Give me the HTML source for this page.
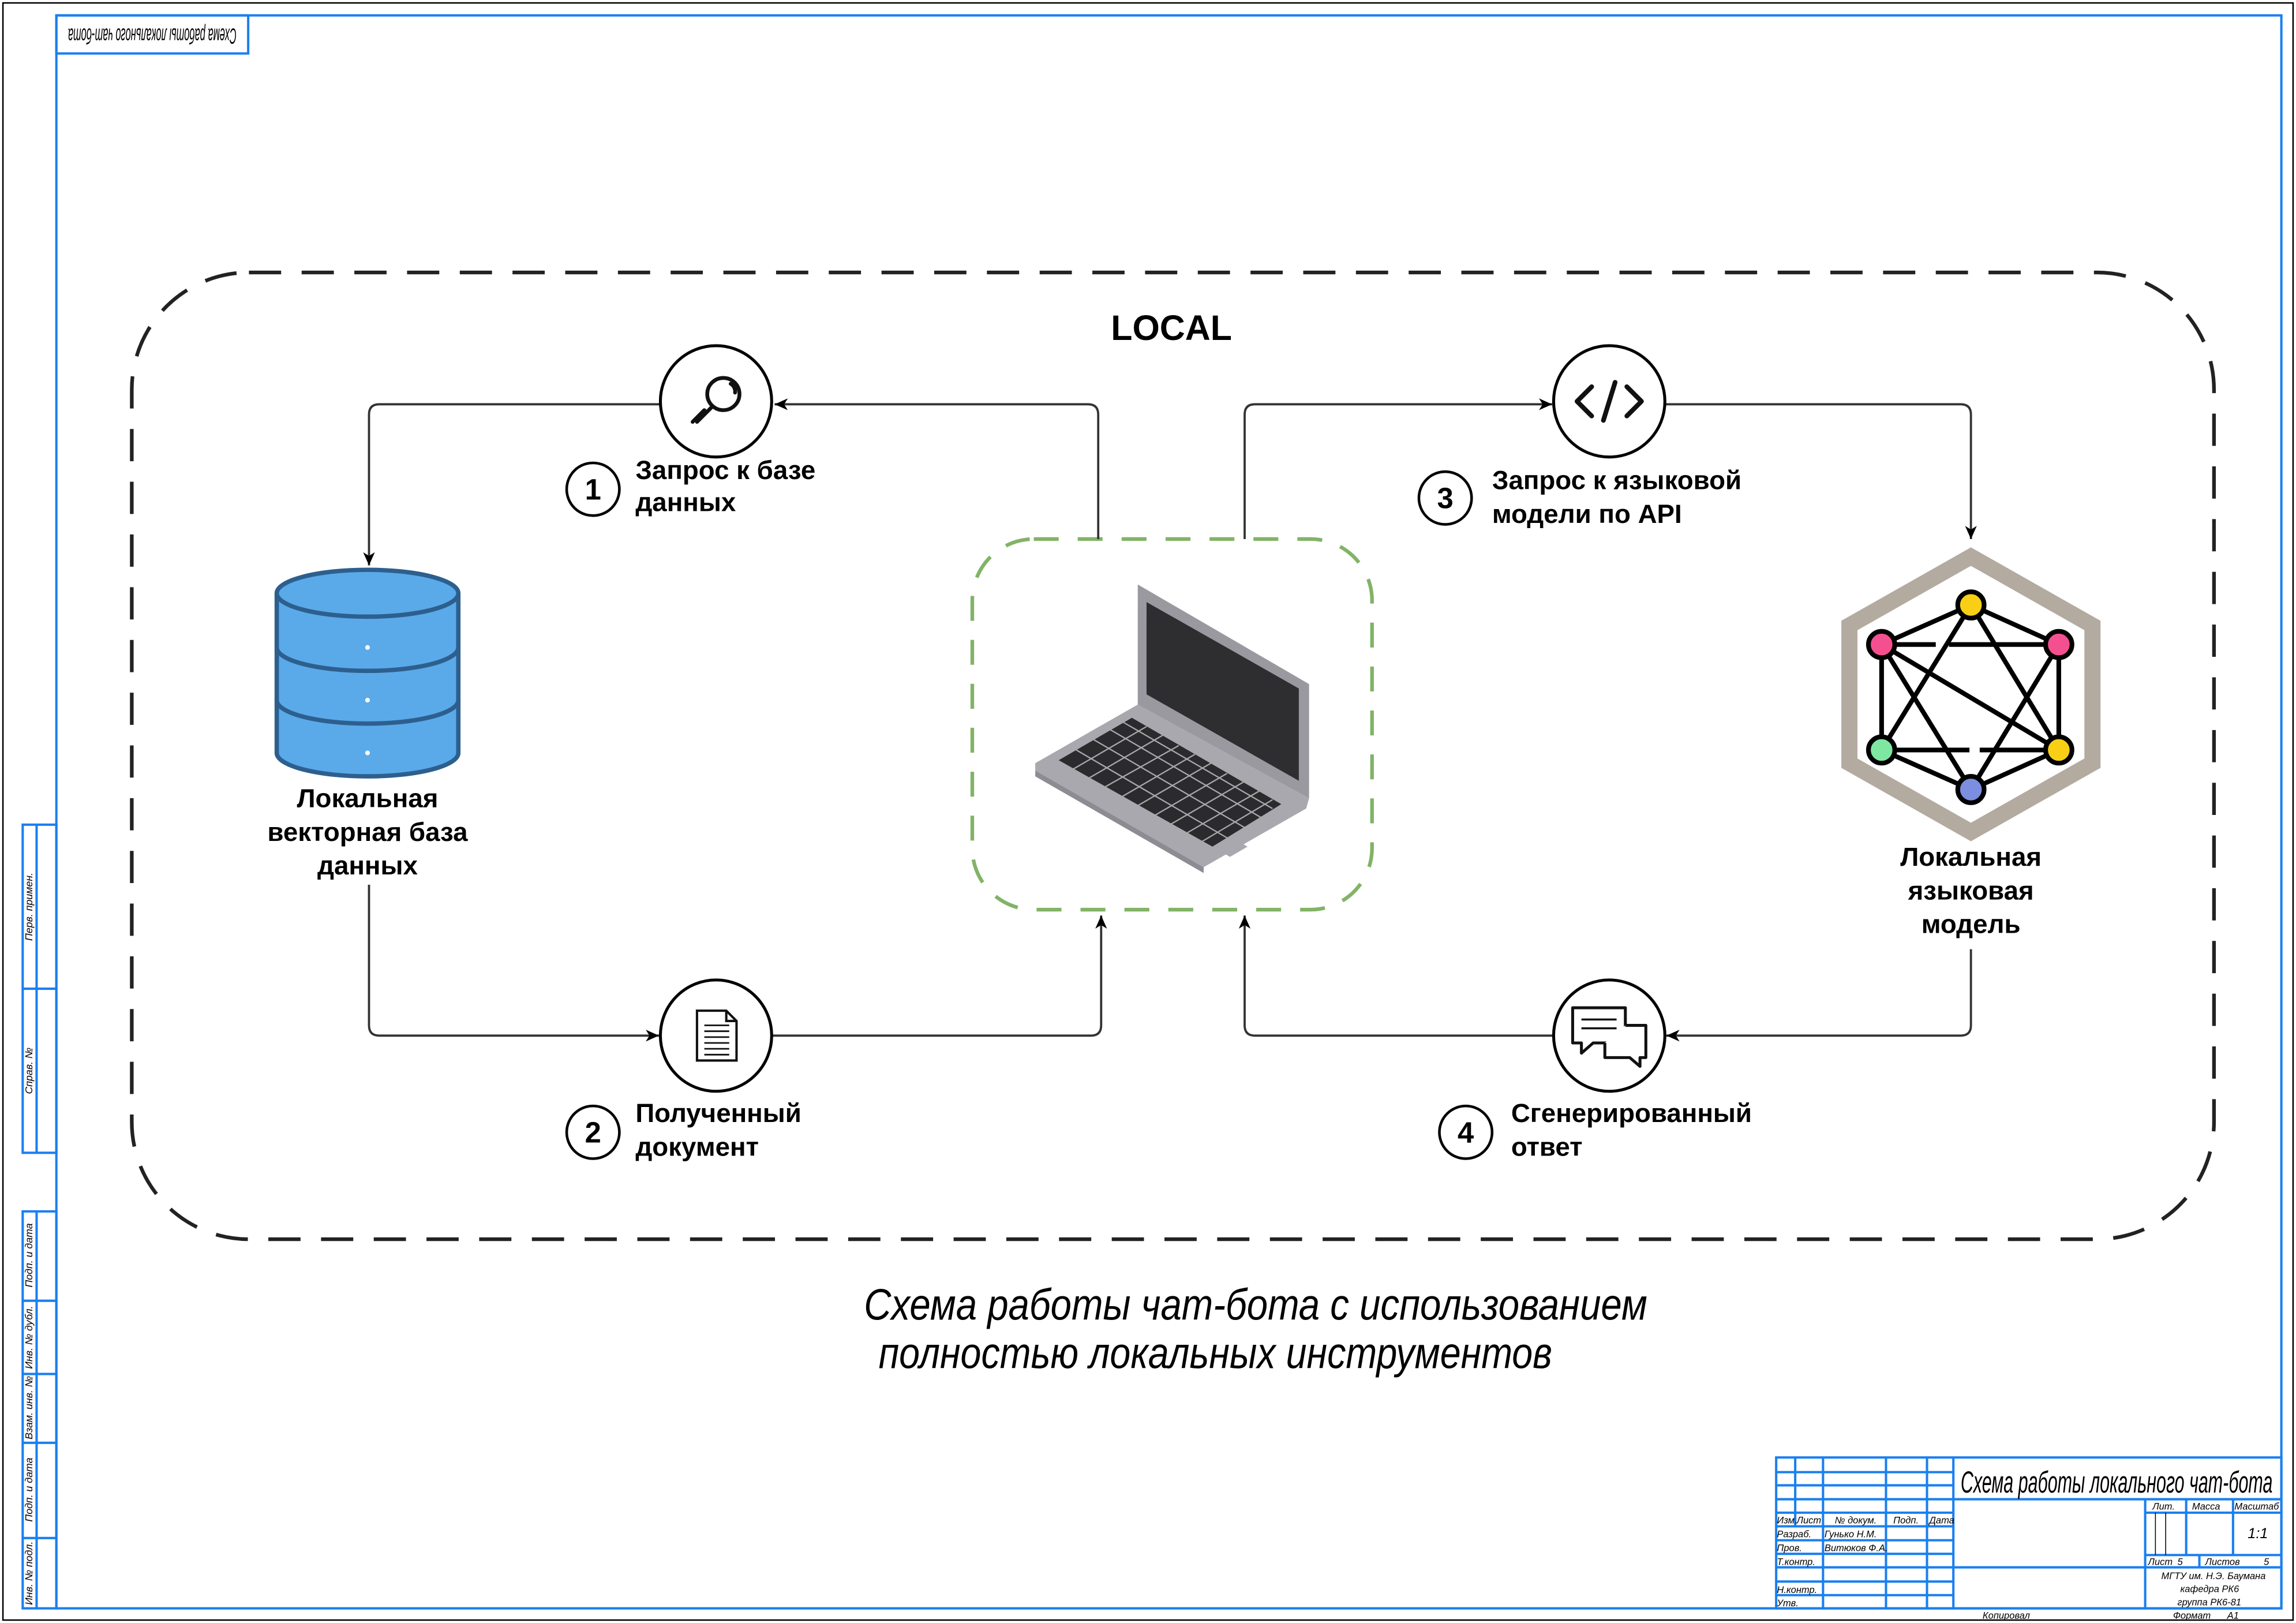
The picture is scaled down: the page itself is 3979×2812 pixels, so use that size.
<!DOCTYPE html>
<html><head><meta charset="utf-8"><style>
html,body{margin:0;padding:0;background:#fff;}
svg{display:block;}
.b{font-family:"Liberation Sans","DejaVu Sans",sans-serif;font-weight:bold;fill:#000;}
.g{font-family:"Liberation Sans Narrow","Liberation Sans",sans-serif;font-style:italic;fill:#000;}
</style></head><body>
<svg width="3979" height="2812" viewBox="0 0 1568 1108" preserveAspectRatio="none" xmlns="http://www.w3.org/2000/svg">
<rect x="0" y="0" width="1568" height="1108" fill="#fff"/>
<rect x="2" y="2" width="1564" height="1104" fill="none" stroke="#000" stroke-width="1"/>
<!-- blue frame -->
<g stroke="#1a7ff0" fill="none" stroke-width="1.6">
<rect x="38.5" y="10.5" width="1519.5" height="1087.5"/>
<rect x="38.5" y="10.5" width="131" height="26"/>
<!-- left strips -->
<rect x="15.5" y="563" width="23" height="224"/>
<line x1="15.5" y1="675" x2="38.5" y2="675"/>
<line x1="25" y1="563" x2="25" y2="787"/>
<rect x="15.5" y="827" width="23" height="271"/>
<line x1="15.5" y1="888" x2="38.5" y2="888"/>
<line x1="15.5" y1="938" x2="38.5" y2="938"/>
<line x1="15.5" y1="985" x2="38.5" y2="985"/>
<line x1="15.5" y1="1050" x2="38.5" y2="1050"/>
<line x1="25" y1="827" x2="25" y2="1098"/>
<!-- title block -->
<rect x="1213" y="995" width="345" height="103"/>
<line x1="1226" y1="995" x2="1226" y2="1042"/>
<line x1="1245" y1="995" x2="1245" y2="1098"/>
<line x1="1288" y1="995" x2="1288" y2="1098"/>
<line x1="1316" y1="995" x2="1316" y2="1098"/>
<line x1="1334" y1="995" x2="1334" y2="1098"/>
<line x1="1213" y1="1005" x2="1334" y2="1005"/>
<line x1="1213" y1="1014" x2="1334" y2="1014"/>
<line x1="1213" y1="1023.5" x2="1334" y2="1023.5"/>
<line x1="1213" y1="1032.7" x2="1334" y2="1032.7"/>
<line x1="1213" y1="1042" x2="1334" y2="1042"/>
<line x1="1213" y1="1051.5" x2="1334" y2="1051.5"/>
<line x1="1213" y1="1060.8" x2="1334" y2="1060.8"/>
<line x1="1213" y1="1070" x2="1334" y2="1070"/>
<line x1="1213" y1="1079.7" x2="1334" y2="1079.7"/>
<line x1="1213" y1="1089" x2="1334" y2="1089"/>
<line x1="1334" y1="1023.5" x2="1558" y2="1023.5"/>
<line x1="1334" y1="1070" x2="1558" y2="1070"/>
<line x1="1465" y1="1023.5" x2="1465" y2="1098"/>
<line x1="1493" y1="1023.5" x2="1493" y2="1061.6"/>
<line x1="1525" y1="1023.5" x2="1525" y2="1061.6"/>
<line x1="1465" y1="1032.7" x2="1558" y2="1032.7"/>
<line x1="1465" y1="1061.6" x2="1558" y2="1061.6"/>
<line x1="1502" y1="1061.6" x2="1502" y2="1070"/>
</g>
<g stroke="#000" stroke-width="0.6"><line x1="1472" y1="1032.7" x2="1472" y2="1061.6"/><line x1="1479" y1="1032.7" x2="1479" y2="1061.6"/></g>
<!-- stamp text -->
<text class="g" font-size="15" transform="translate(104,23.5) rotate(180)" text-anchor="middle" dominant-baseline="middle" textLength="115" lengthAdjust="spacingAndGlyphs">Схема работы локального чат-бота</text>
<!-- strip texts -->
<g class="g" font-size="7">
<text transform="translate(22,619) rotate(-90)" text-anchor="middle">Перв. примен.</text>
<text transform="translate(22,731) rotate(-90)" text-anchor="middle">Справ. №</text>
<text transform="translate(22,857) rotate(-90)" text-anchor="middle">Подп. и дата</text>
<text transform="translate(22,913) rotate(-90)" text-anchor="middle">Инв. № дубл.</text>
<text transform="translate(22,961) rotate(-90)" text-anchor="middle">Взам. инв. №</text>
<text transform="translate(22,1017) rotate(-90)" text-anchor="middle">Подп. и дата</text>
<text transform="translate(22,1074) rotate(-90)" text-anchor="middle">Инв. № подл.</text>
</g>
<!-- title block texts -->
<text class="g" x="1339" y="1019" font-size="21" textLength="213" lengthAdjust="spacingAndGlyphs">Схема работы локального чат-бота</text>
<g class="g" font-size="6.5">
<text x="1213.5" y="1040">Изм.</text><text x="1227" y="1040">Лист</text><text x="1253" y="1040">№ докум.</text><text x="1293" y="1040">Подп.</text><text x="1317.5" y="1040">Дата</text>
<text x="1213.5" y="1049.5">Разраб.</text><text x="1246" y="1049.5">Гунько Н.М.</text>
<text x="1213.5" y="1059">Пров.</text><text x="1246" y="1059">Витюков Ф.А.</text>
<text x="1213.5" y="1068.5">Т.контр.</text>
<text x="1213.5" y="1087.5">Н.контр.</text>
<text x="1213.5" y="1096.5">Утв.</text>
<text x="1470" y="1030.5">Лит.</text><text x="1497" y="1030.5">Масса</text><text x="1526" y="1030.5">Масштаб</text>
<text x="1467" y="1068.5">Лист</text><text x="1487" y="1068.5">5</text><text x="1506" y="1068.5">Листов</text><text x="1546" y="1068.5">5</text>
<text x="1476" y="1078">МГТУ им. Н.Э. Баумана</text>
<text x="1489" y="1087">кафедра РК6</text>
<text x="1487" y="1096">группа РК6-81</text>
<text x="1354" y="1105">Копировал</text>
<text x="1484" y="1105">Формат</text><text x="1521" y="1105">А1</text>
</g>
<text class="g" x="1535" y="1050" font-size="10">1:1</text>

<!-- main dashed container -->
<rect x="90" y="186" width="1422" height="660" rx="80" ry="80" fill="none" stroke="#222" stroke-width="2.5" stroke-dasharray="22 14"/>
<text class="b" x="800" y="232" font-size="24" text-anchor="middle">LOCAL</text>

<!-- green box -->
<rect x="664" y="368" width="273" height="253" rx="42" ry="42" fill="none" stroke="#82b366" stroke-width="2.5" stroke-dasharray="17 13"/>

<!-- connectors -->
<defs><marker id="ar" markerWidth="10" markerHeight="10" refX="9" refY="5" orient="auto" markerUnits="userSpaceOnUse"><path d="M0,1 L9,5 L0,9 L2.5,5 z" fill="#000"/></marker></defs>
<g fill="none" stroke="#333" stroke-width="1.5">
<path d="M750,368 V283 Q750,276 743,276 H529" marker-end="url(#ar)"/>
<path d="M451,276 H259 Q252,276 252,283 V386" marker-end="url(#ar)"/>
<path d="M252,604 V700 Q252,707 259,707 H450" marker-end="url(#ar)"/>
<path d="M527,707 H745 Q752,707 752,700 V625" marker-end="url(#ar)"/>
<path d="M850,368 V283 Q850,276 857,276 H1060" marker-end="url(#ar)"/>
<path d="M1137,276 H1339 Q1346,276 1346,283 V368" marker-end="url(#ar)"/>
<path d="M1346,648 V700 Q1346,707 1339,707 H1138" marker-end="url(#ar)"/>
<path d="M1061,707 H857 Q850,707 850,700 V625" marker-end="url(#ar)"/>
</g>

<!-- step circles -->
<g fill="#fff" stroke="#000" stroke-width="2">
<circle cx="489" cy="274" r="38"/><circle cx="1099" cy="274" r="38"/>
<circle cx="489" cy="707" r="38"/><circle cx="1099" cy="707" r="38"/>
</g>
<!-- search icon -->
<g fill="none" stroke="#111" stroke-width="2.6" stroke-linecap="round">
<circle cx="494" cy="269" r="11"/>
<path d="M499,262 A6,6 0 0 1 502,268"/>
<path d="M486,278 L476,288 M481,280 L473,288"/>
</g>
<!-- code icon -->
<g fill="none" stroke="#111" stroke-width="3.2" stroke-linecap="round" stroke-linejoin="round">
<path d="M1087,264 L1077,274 L1087,284"/><path d="M1111,264 L1121,274 L1111,284"/><path d="M1103,261 L1095,287"/>
</g>
<!-- document icon -->
<g fill="#fff" stroke="#111" stroke-width="1.6">
<path d="M476,690 H496 L503,697 V724 H476 Z"/>
<path d="M496,690 V697 H503" fill="none"/>
<path d="M481,700 H498 M481,704 H498 M481,708 H498 M481,712 H498 M481,716 H498 M481,720 H498" stroke-width="1.1"/>
</g>
<!-- chat icon -->
<g fill="#fff" stroke="#111" stroke-width="2" stroke-linejoin="round">
<path d="M1074,688 H1110 V712 H1088 L1080,719 V712 H1074 Z"/>
<path d="M1110,700 H1124 V722 H1120 V728 L1113,722 H1096 V712"/>
<path d="M1080,696 H1104 M1080,702 H1104" stroke-width="1.4"/>
</g>

<!-- number circles -->
<g fill="#fff" stroke="#000" stroke-width="1.8">
<circle cx="405" cy="334" r="18"/><circle cx="405" cy="773" r="18"/>
<circle cx="987" cy="340" r="18"/><circle cx="1001" cy="773" r="18"/>
</g>
<g class="b" font-size="20" text-anchor="middle">
<text x="405" y="341">1</text><text x="405" y="780">2</text><text x="987" y="347">3</text><text x="1001" y="780">4</text>
</g>
<g class="b" font-size="18">
<text x="434" y="327">Запрос к базе</text><text x="434" y="349">данных</text>
<text x="434" y="766">Полученный</text><text x="434" y="789">документ</text>
<text x="1019" y="334">Запрос к языковой</text><text x="1019" y="357">модели по API</text>
<text x="1032" y="766">Сгенерированный</text><text x="1032" y="789">ответ</text>
</g>

<!-- database -->
<g stroke="#2d5f8e" stroke-width="3" fill="#5aaaea">
<path d="M189,405 V514 A62,16 0 0 0 313,514 V405"/>
<path d="M189,478 A62,16 0 0 0 313,478" fill="none"/>
<path d="M189,442 A62,16 0 0 0 313,442" fill="none"/>
<ellipse cx="251" cy="405" rx="62" ry="16"/>
</g>
<g fill="#fff"><circle cx="251" cy="442" r="1.6"/><circle cx="251" cy="478" r="1.6"/><circle cx="251" cy="514" r="1.6"/></g>
<g class="b" font-size="18" text-anchor="middle">
<text x="251" y="551">Локальная</text><text x="251" y="574">векторная база</text><text x="251" y="597">данных</text>
</g>

<!-- laptop -->
<polygon points="707,521 777,481 894,545 892,552 822,592 707,526" fill="#a9a8ae"/>
<polygon points="707,526 822,592 822,596 707,530" fill="#8d8c92"/>
<polygon points="777,399 894,467 894,545 777,481" fill="#9a999f"/>
<polygon points="783,411 887,470 887,533 783,474" fill="#2e2e30"/>
<polygon points="723,519 773,490 875,549 828,578" fill="#2b2b2d"/>
<g stroke="#a9a8ae" stroke-width="0.9">
<line x1="735" y1="512" x2="838" y2="572"/><line x1="747" y1="505" x2="850" y2="565"/><line x1="758" y1="498" x2="861" y2="558"/><line x1="767" y1="493" x2="869" y2="552"/>
<line x1="733" y1="525" x2="783" y2="496"/><line x1="744" y1="531" x2="794" y2="502"/><line x1="755" y1="537" x2="805" y2="509"/><line x1="766" y1="544" x2="816" y2="515"/><line x1="777" y1="550" x2="827" y2="521"/><line x1="788" y1="557" x2="838" y2="528"/><line x1="799" y1="563" x2="849" y2="534"/><line x1="810" y1="569" x2="860" y2="540"/><line x1="820" y1="575" x2="869" y2="546"/>
</g>
<polygon points="828,578 840,585 852,578 840,571" fill="#a9a8ae"/>

<!-- LLM hexagon -->
<polygon points="1346,380 1429,427 1429,521 1346,568 1263,521 1263,427" fill="#fff" stroke="#b3aaa0" stroke-width="11" stroke-linejoin="miter"/>
<g stroke="#000" stroke-width="3.2" fill="none">
<path d="M1285,440 L1346,413 L1406,440 L1406,512 L1346,539 L1285,512 Z"/>
<path d="M1285,440 H1322 M1331,440 H1406"/>
<path d="M1285,512 H1345 M1352,512 H1406"/>
<path d="M1346,413 L1285,512 M1346,413 L1406,512 M1285,440 L1346,539 M1406,440 L1346,539 M1285,440 L1406,512"/>
</g>
<g stroke="#000" stroke-width="3.2">
<circle cx="1346" cy="413" r="9" fill="#f9cf15"/>
<circle cx="1285" cy="440" r="9" fill="#f4508f"/>
<circle cx="1406" cy="440" r="9" fill="#f4508f"/>
<circle cx="1285" cy="512" r="9" fill="#7ee8a2"/>
<circle cx="1406" cy="512" r="9" fill="#f9cf15"/>
<circle cx="1346" cy="539" r="9" fill="#7b8ee0"/>
</g>
<g class="b" font-size="18" text-anchor="middle">
<text x="1346" y="591">Локальная</text><text x="1346" y="614">языковая</text><text x="1346" y="637">модель</text>
</g>

<!-- caption -->
<text class="g" x="590" y="901" font-size="30" textLength="535" lengthAdjust="spacingAndGlyphs" font-weight="normal">Схема работы чат-бота с использованием</text>
<text class="g" x="600" y="934" font-size="30" textLength="460" lengthAdjust="spacingAndGlyphs">полностью локальных инструментов</text>
</svg>
</body></html>
